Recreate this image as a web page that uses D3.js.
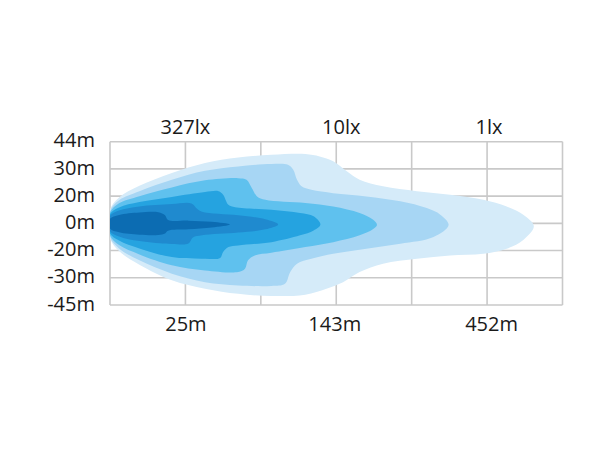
<!DOCTYPE html>
<html>
<head>
<meta charset="utf-8">
<script src="https://cdn.jsdelivr.net/npm/d3@7/dist/d3.min.js"></script>
<style>
  html, body { margin: 0; padding: 0; background: #ffffff; }
  svg { display: block; }
  text { font-family: "Open Sans", "DejaVu Sans", sans-serif; fill: #1a1a1a; }
</style>
</head>
<body>
<svg id="chart" width="610" height="450"></svg>
<script>
// ---------- DATA ----------
// vertical (lateral) tick labels, from top row line to bottom row line
const yTickLabels = ["44m", "30m", "20m", "0m", "-20m", "-30m", "-45m"];
const yTickValues = [3, 2, 1, 0, -1, -2, -3];
// lux labels along the top, and distance labels along the bottom (column index)
const luxLabels = ["327lx", "10lx", "1lx"];
const distLabels = ["25m", "143m", "452m"];
const labelColumns = [1, 3, 5];

// isolux contours: [distance in grid columns, lateral offset in grid rows]
const contour1lx = [
  [0, 0.50], [0.12, 0.95], [0.39, 1.38], [0.82, 1.85], [1.26, 2.22], [1.70, 2.42], [2.14, 2.52],
  [2.59, 2.55], [2.78, 2.46], [2.96, 2.28], [3.14, 1.91], [3.31, 1.60], [3.62, 1.36], [4.07, 1.18],
  [4.51, 1.05], [4.95, 0.87], [5.26, 0.62], [5.48, 0.32], [5.62, -0.10], [5.48, -0.61], [5.26, -0.93],
  [4.95, -1.12], [4.51, -1.18], [4.07, -1.30], [3.62, -1.48], [3.31, -1.79], [3.09, -2.16],
  [2.87, -2.40], [2.59, -2.62], [2.14, -2.67], [1.70, -2.59], [1.26, -2.40], [0.82, -2.09],
  [0.39, -1.52], [0.12, -1.02], [0, -0.55]
];
const contour3lx = [
  [0, 0.45], [0.12, 0.85], [0.39, 1.18], [0.82, 1.60], [1.26, 1.93], [1.70, 2.09], [2.14, 2.18],
  [2.36, 2.15], [2.43, 1.97], [2.48, 1.60], [2.54, 1.36], [2.67, 1.23], [2.96, 1.11], [3.40, 0.99],
  [3.85, 0.81], [4.20, 0.56], [4.38, 0.32], [4.49, -0.06], [4.29, -0.50], [3.85, -0.75], [3.40, -0.93],
  [2.96, -1.12], [2.67, -1.30], [2.48, -1.48], [2.39, -1.79], [2.32, -2.22], [2.14, -2.30],
  [1.70, -2.28], [1.26, -2.16], [0.82, -1.85], [0.39, -1.36], [0.12, -0.92], [0, -0.50]
];
const contour10lx = [
  [0, 0.40], [0.12, 0.74], [0.39, 1.00], [0.82, 1.32], [1.26, 1.58], [1.70, 1.66], [1.81, 1.60],
  [1.88, 1.30], [1.95, 0.99], [2.06, 0.87], [2.59, 0.75], [2.96, 0.62], [3.31, 0.38], [3.49, 0.13],
  [3.54, -0.06], [3.49, -0.21], [3.31, -0.44], [2.96, -0.69], [2.59, -0.87], [2.14, -1.08],
  [1.92, -1.18], [1.83, -1.36], [1.79, -1.67], [1.70, -1.79], [1.26, -1.73], [0.82, -1.54],
  [0.39, -1.14], [0.12, -0.80], [0, -0.44]
];
const contour30lx = [
  [0, 0.33], [0.12, 0.58], [0.39, 0.78], [0.82, 0.97], [1.26, 1.15], [1.44, 1.18], [1.50, 1.05],
  [1.57, 0.68], [1.66, 0.59], [2.14, 0.50], [2.52, 0.38], [2.70, 0.26], [2.79, -0.04], [2.70, -0.26],
  [2.52, -0.44], [2.14, -0.69], [1.70, -0.81], [1.57, -0.87], [1.50, -1.05], [1.46, -1.27],
  [1.26, -1.30], [0.82, -1.24], [0.39, -0.92], [0.12, -0.63], [0, -0.36]
];
const contour100lx = [
  [0, 0.27], [0.12, 0.47], [0.39, 0.62], [0.82, 0.71], [1.08, 0.73], [1.15, 0.55], [1.22, 0.43],
  [1.70, 0.30], [2.06, 0.15], [2.23, -0.04], [2.06, -0.22], [1.70, -0.34], [1.22, -0.44],
  [1.10, -0.52], [1.04, -0.74], [0.82, -0.76], [0.39, -0.65], [0.12, -0.48], [0, -0.29]
];
const contour327lx = [
  [0, 0.17], [0.12, 0.31], [0.39, 0.40], [0.64, 0.41], [0.73, 0.30], [0.77, 0.12], [1.04, 0.10],
  [1.35, 0.06], [1.59, -0.04], [1.35, -0.15], [1.04, -0.22], [0.77, -0.27], [0.73, -0.37],
  [0.64, -0.43], [0.39, -0.42], [0.12, -0.33], [0, -0.19]
];

const contours = [contour1lx, contour3lx, contour10lx, contour30lx, contour100lx, contour327lx];

// ---------- LAYOUT / STYLE ----------
const colors = ["#d5ebf9", "#a7d6f4", "#5fc1ee", "#25a3e0", "#1f8acf", "#0c6cb2"];
const luxNudge = [0, 5, 2];
const distNudge = [0.5, -1.5, 4.5];

const svg = d3.select("#chart");
const x = d3.scaleLinear().domain([0, 6]).range([110, 562.5]);
const y = d3.scaleLinear().domain([3, -3]).range([141.7, 305]);

svg.append("defs").append("clipPath").attr("id", "plotClip")
  .append("rect")
  .attr("x", x(0)).attr("y", y(3))
  .attr("width", x(6) - x(0)).attr("height", y(-3) - y(3));

// grid
const grid = svg.append("g").attr("stroke", "#c9c9c9").attr("stroke-width", 1.6);
grid.selectAll("line.v").data(d3.range(0, 7)).join("line")
  .attr("x1", d => x(d)).attr("x2", d => x(d))
  .attr("y1", y(3)).attr("y2", y(-3));
grid.selectAll("line.h").data(yTickValues).join("line")
  .attr("x1", x(0)).attr("x2", x(6))
  .attr("y1", d => y(d)).attr("y2", d => y(d));

// contours
const line = d3.line()
  .x(d => x(d[0])).y(d => y(d[1]))
  .curve(d3.curveCatmullRomClosed.alpha(0.5));
svg.append("g").attr("clip-path", "url(#plotClip)")
  .selectAll("path").data(contours).join("path")
  .attr("d", d => line(d))
  .attr("fill", (d, i) => colors[i]);

// y axis labels
const yAxis = d3.axisLeft(y)
  .tickValues(yTickValues)
  .tickFormat((d, i) => yTickLabels[i])
  .tickSize(0).tickPadding(15);
const ya = svg.append("g").attr("transform", `translate(${x(0)},0)`).call(yAxis);
ya.select(".domain").remove();
ya.selectAll("text")
  .attr("dy", "0.26em")
  .style("font-family", "'Open Sans', sans-serif")
  .style("font-size", "20px")
  .attr("fill", "#1a1a1a");

// top lux labels
svg.append("g").selectAll("text").data(luxLabels).join("text")
  .attr("x", (d, i) => x(labelColumns[i]) + luxNudge[i])
  .attr("y", 133.5)
  .attr("text-anchor", "middle")
  .style("font-size", "20px")
  .text(d => d);

// bottom distance labels
svg.append("g").selectAll("text").data(distLabels).join("text")
  .attr("x", (d, i) => x(labelColumns[i]) + distNudge[i])
  .attr("y", 331)
  .attr("text-anchor", "middle")
  .style("font-size", "20px")
  .text(d => d);
</script>
</body>
</html>
